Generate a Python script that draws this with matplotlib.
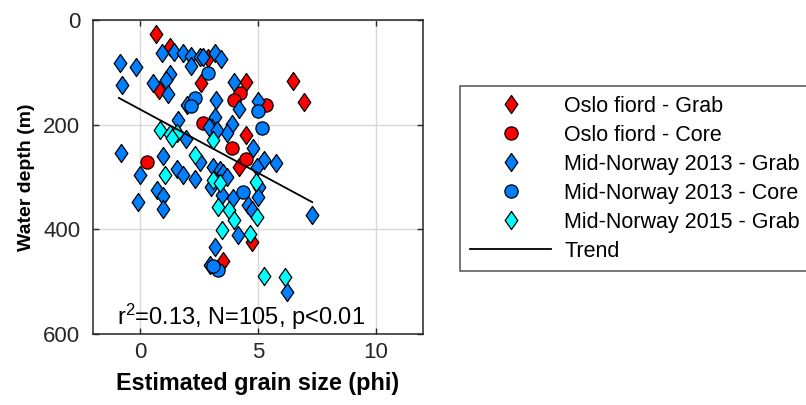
import numpy as np
import matplotlib
matplotlib.use('Agg')
import matplotlib.pyplot as plt
from matplotlib.lines import Line2D

plt.rcParams['font.family'] = ['Liberation Sans', 'DejaVu Sans']
plt.rcParams['mathtext.default'] = 'regular'

# Oslo fiord - Grab
oslo_grab_x = [0.68, 1.27, 2.87, 2.57, 0.8, 4.47, 6.5, 6.96, 4.5, 4.18, 4.73, 3.5]
oslo_grab_y = [27, 52, 73, 121, 134, 119, 117, 157, 220, 281, 425, 461]

# Oslo fiord - Core
oslo_core_x = [4.22, 3.97, 5.36, 2.66, 0.3, 3.88, 4.47]
oslo_core_y = [139, 153, 163, 197, 271, 245, 266]

# Mid-Norway 2013 - Grab
mn13_grab_x = [-0.84, -0.17, -0.76, 0.93, 1.43, 1.81, 2.15, 2.15, 2.53, 2.66, 3.16, 3.42,
               0.55, 1.27, 1.1, 1.18, 3.2, 1.6, 3.16, 3.97, 4.18, 4.98, 3.04, 3.9,
               3.67, 4.77, 5.27, 5.78, 4.94, 3.08, 3.38, 3.5, 5.06, 3.46, 3.92, 4.56,
               4.98, 4.73, 7.3, 4.14, 3.16, 2.95, 6.24, -0.8, 0.0, 0.97, 0.72, 0.97,
               -0.08, 0.97, 1.56, 1.81, 2.32, 2.53, 1.94, 2.9, 2.0, 3.25, 3.7, 3.0]
mn13_grab_y = [82, 90, 124, 63, 61, 63, 69, 88, 71, 71, 64, 75,
               121, 103, 115, 142, 153, 191, 185, 119, 170, 155, 207, 199,
               216, 245, 268, 273, 281, 281, 287, 293, 319, 335, 341, 354,
               339, 364, 373, 411, 434, 469, 520, 255, 297, 260, 325, 337,
               348, 362, 285, 297, 303, 271, 228, 205, 163, 210, 300, 320]

# Mid-Norway 2013 - Core
mn13_core_x = [2.87, 2.32, 2.15, 5.02, 5.19, 4.35, 3.29, 3.1]
mn13_core_y = [102, 149, 165, 174, 207, 329, 478, 470]

# Mid-Norway 2015 - Grab
mn15_grab_x = [0.84, 1.27, 1.56, 1.35, 2.32, 1.05, 3.08, 3.08, 3.38, 3.29, 3.76, 4.0,
               3.46, 4.64, 4.9, 4.94, 5.27, 6.16]
mn15_grab_y = [210, 217, 215, 226, 258, 297, 230, 306, 312, 358, 364, 383,
               402, 408, 310, 377, 490, 492]

# trend line end points
trend_x = [-0.9, 7.3]
trend_y = [149, 348]

red = (1, 0, 0)
blue = (0, 0.5, 1)
cyan = (0, 1, 1)
diamond = [(0, 1), (0.7, 0), (0, -1), (-0.7, 0), (0, 1)]
dsize = 13
csize = 9.5

fig = plt.figure(figsize=(8.06, 4.05), dpi=100)
ax = fig.add_axes([93/806, 71/405, 330/806, 314/405])

ax.plot(oslo_grab_x, oslo_grab_y, ls='none', marker=diamond, ms=dsize, mfc=red, mec='k', mew=0.9)
ax.plot(oslo_core_x, oslo_core_y, ls='none', marker='o', ms=csize, mfc=red, mec='k', mew=0.9)
ax.plot(mn13_grab_x, mn13_grab_y, ls='none', marker=diamond, ms=dsize, mfc=blue, mec='k', mew=0.9)
ax.plot(mn13_core_x, mn13_core_y, ls='none', marker='o', ms=csize, mfc=blue, mec='k', mew=0.9)
ax.plot(mn15_grab_x, mn15_grab_y, ls='none', marker=diamond, ms=dsize, mfc=cyan, mec='k', mew=0.9)
ax.plot(trend_x, trend_y, color='k', lw=1.3)

ax.set_xlim(-2, 12)
ax.set_ylim(600, 0)
ax.set_xticks([0, 5, 10])
ax.set_yticks([0, 200, 400, 600])
ax.grid(True, color='0.85', lw=1.0)
ax.set_axisbelow(True)
ax.tick_params(direction='in', top=True, right=True, labelsize=16, colors='0.15', length=4, width=1.0)
ax.tick_params(axis='y', pad=9)
ax.tick_params(axis='x', pad=6)
for s in ax.spines.values():
    s.set_color('0.15')
    s.set_linewidth(1.1)

ax.set_xlabel('Estimated grain size (phi)', fontsize=16.8, fontweight='bold', labelpad=6)
ax.set_ylabel('Water depth (m)', fontsize=14, fontweight='bold', labelpad=6)
ax.text(-0.97, 597, 'r$^{2}$=0.13, N=105, p<0.01', fontsize=17, va='bottom', ha='left')

handles = [
    Line2D([], [], ls='none', marker=diamond, ms=dsize, mfc=red, mec='k', mew=0.9),
    Line2D([], [], ls='none', marker='o', ms=csize, mfc=red, mec='k', mew=0.9),
    Line2D([], [], ls='none', marker=diamond, ms=dsize, mfc=blue, mec='k', mew=0.9),
    Line2D([], [], ls='none', marker='o', ms=csize, mfc=blue, mec='k', mew=0.9),
    Line2D([], [], ls='none', marker=diamond, ms=dsize, mfc=cyan, mec='k', mew=0.9),
    Line2D([], [], color='k', lw=1.3),
]
labels = ['Oslo fiord - Grab', 'Oslo fiord - Core', 'Mid-Norway 2013 - Grab',
          'Mid-Norway 2013 - Core', 'Mid-Norway 2015 - Grab', 'Trend']
leg = fig.legend(handles, labels, loc='upper left', bbox_to_anchor=(460/806, 1 - 86/405),
                 fontsize=15.5, frameon=True, fancybox=False, handlelength=3.8,
                 handletextpad=0.6, labelspacing=0.37, borderpad=0.45, borderaxespad=0)
leg.get_frame().set_edgecolor('0.15')
leg.get_frame().set_linewidth(1.1)

fig.savefig('out.png', dpi=100)
